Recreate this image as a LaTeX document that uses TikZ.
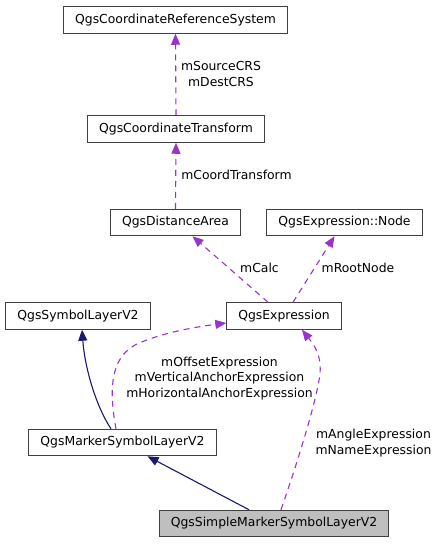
\documentclass[tikz,border=0pt]{standalone}
\usepackage{fontspec}
\setmainfont{DejaVu Sans}
\usepackage{xcolor}
\usepackage{tikz}
\usetikzlibrary{arrows.meta,positioning}

\definecolor{edgepurple}{HTML}{9A32CD}
\definecolor{edgenavy}{HTML}{191970}
\definecolor{boxgray}{HTML}{BFBFBF}

\begin{document}
\begin{tikzpicture}[
		x=1pt, y=-1pt,
		font=\fontsize{12.4}{15.8}\selectfont,
		>={Triangle[length=11pt, width=9pt]},
		cls/.style={draw=black!75, line width=1pt, minimum height=26.5pt, inner xsep=11.5pt, inner ysep=0pt, fill=white},
		focus/.style={cls, fill=boxgray},
		uses/.style={->, edgepurple, line width=1.1pt, dash pattern=on 6pt off 5pt},
		inherit/.style={->, edgenavy, line width=1.1pt},
		lbl/.style={align=center, inner sep=0pt}
		]
		\useasboundingbox (0,0) rectangle (439,544);
		
		% Classes
		\node[cls] (crs) at (175.5,20) {QgsCoordinateReferenceSystem};
		\node[cls] (transform) at (176,129) {QgsCoordinateTransform};
		\node[cls] (distarea) at (175.5,222.5) {QgsDistanceArea};
		\node[cls] (exprnode) at (344.5,222.5) {QgsExpression::Node};
		\node[cls] (symlayer) at (78,316) {QgsSymbolLayerV2};
		\node[cls] (expr) at (284,316) {QgsExpression};
		\node[cls] (marker) at (122.5,442.5) {QgsMarkerSymbolLayerV2};
		\node[focus] (simple) at (274,523.5) {QgsSimpleMarkerSymbolLayerV2};
		
		% Member usage
		\draw[uses] (transform.north) -- (crs.south);
		\draw[uses] (distarea.north) -- (transform.south);
		\draw[uses] ([xshift=-16pt]expr.north) -- ([xshift=17pt]distarea.south);
		\draw[uses] ([xshift=9pt]expr.north) -- ([xshift=-10pt]exprnode.south);
		\draw[uses] ([xshift=-6.5pt]marker.north) .. controls (110,395) and (108,360) .. (135,345)
			.. controls (160,333) and (195,327) .. ([yshift=-7pt]expr.west);
		\draw[uses] ([xshift=7pt]simple.north) .. controls (300,455) and (318,395) .. (320,373)
			.. controls (322,352) and (310,340) .. ([xshift=18pt]expr.south);
		
		% Inheritance
		\draw[inherit] ([xshift=-11.5pt]marker.north) .. controls (97,408) and (85,370) .. ([xshift=4pt]symlayer.south);
		\draw[inherit] ([xshift=-25pt]simple.north) -- ([xshift=25pt]marker.south);
		
		% Member names
		\node[lbl] (crslbl) at (221,74) {mSourceCRS\\mDestCRS};
		\node[lbl] (transformlbl) at (236.5,175) {mCoordTransform};
		\node[lbl] (calclbl) at (259.5,268) {mCalc};
		\node[lbl] (rootlbl) at (358,268) {mRootNode};
		\node[lbl] (offsetlbl) at (219.5,378.5) {mOffsetExpression\\mVerticalAnchorExpression\\mHorizontalAnchorExpression};
		\node[lbl] (anglelbl) at (373.5,443) {mAngleExpression\\mNameExpression};
	\end{tikzpicture}
\end{document}
